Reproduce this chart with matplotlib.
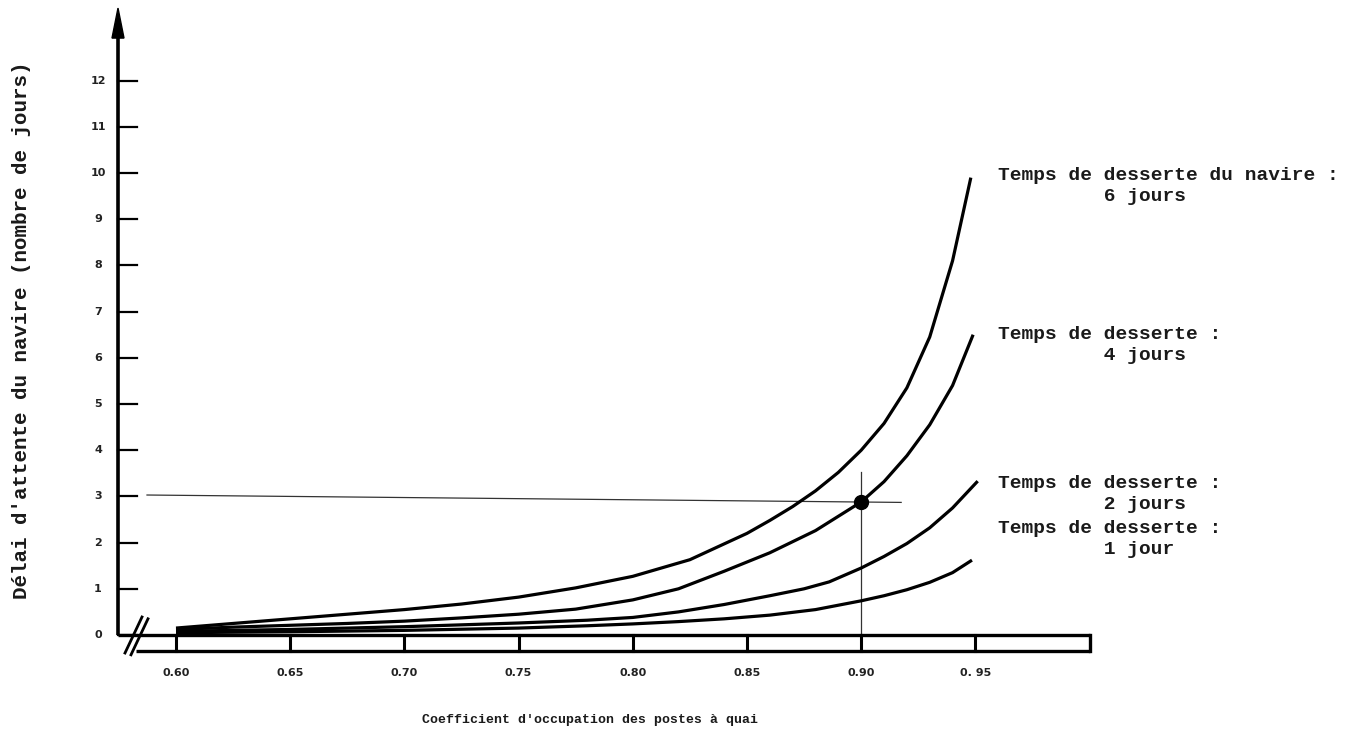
import matplotlib
matplotlib.use("Agg")
import matplotlib.pyplot as plt

# Occupancy ratio of berths (x) and waiting time in days (y) for each service time
occ_6j = [0.600, 0.625, 0.650, 0.675, 0.700, 0.725, 0.750, 0.775, 0.800, 0.825,
          0.850, 0.860, 0.870, 0.880, 0.890, 0.900, 0.910, 0.920, 0.930, 0.940, 0.948]
wait_6j = [0.15, 0.25, 0.35, 0.45, 0.55, 0.67, 0.82, 1.02, 1.27, 1.63,
           2.20, 2.48, 2.78, 3.12, 3.52, 4.00, 4.58, 5.35, 6.45, 8.10, 9.90]

occ_4j = [0.600, 0.625, 0.650, 0.675, 0.700, 0.725, 0.750, 0.775, 0.800, 0.820,
          0.840, 0.860, 0.880, 0.900, 0.910, 0.920, 0.930, 0.940, 0.949]
wait_4j = [0.12, 0.17, 0.21, 0.25, 0.30, 0.37, 0.45, 0.56, 0.76, 1.00,
           1.38, 1.78, 2.26, 2.88, 3.32, 3.88, 4.55, 5.40, 6.50]

occ_2j = [0.600, 0.650, 0.700, 0.750, 0.780, 0.800, 0.820, 0.840, 0.860, 0.875,
          0.886, 0.900, 0.910, 0.920, 0.930, 0.940, 0.951]
wait_2j = [0.08, 0.12, 0.18, 0.26, 0.32, 0.38, 0.50, 0.66, 0.85, 1.00,
           1.15, 1.45, 1.70, 1.98, 2.32, 2.75, 3.33]

occ_1j = [0.600, 0.650, 0.700, 0.750, 0.780, 0.800, 0.820, 0.840, 0.860, 0.880,
          0.900, 0.910, 0.920, 0.930, 0.940, 0.9485]
wait_1j = [0.05, 0.07, 0.10, 0.15, 0.20, 0.24, 0.29, 0.35, 0.43, 0.55,
           0.74, 0.85, 0.98, 1.14, 1.35, 1.62]

series = [(occ_6j, wait_6j), (occ_4j, wait_4j), (occ_2j, wait_2j), (occ_1j, wait_1j)]

curve_labels = ["Temps de desserte du navire :\n         6 jours",
                "Temps de desserte :\n         4 jours",
                "Temps de desserte :\n         2 jours",
                "Temps de desserte :\n         1 jour"]
curve_label_y = [9.72, 6.28, 3.05, 2.08]

x_ticks = [0.60, 0.65, 0.70, 0.75, 0.80, 0.85, 0.90, 0.95]
x_tick_labels = ["0.60", "0.65", "0.70", "0.75", "0.80", "0.85", "0.90", "0. 95"]
y_ticks = list(range(0, 13))

# reading example: occupancy 0.90 with a 4-day service time
ref_x = 0.90
ref_y = 2.88

# ---------------------------------------------------------------------------
W, H = 1360, 733
fig = plt.figure(figsize=(W / 100, H / 100), dpi=100)
ax = fig.add_axes([0, 0, 1, 1])
ax.set_axis_off()

# one data unit in pixels
PX0, PPX = 176, 2284.0   # x = 0.60 at pixel 176
PY0, PPY = 635, 46.2     # y = 0 at pixel 635
ax.set_xlim(0.6 - PX0 / PPX, 0.6 + (W - PX0) / PPX)
ax.set_ylim((PY0 - H) / PPY, PY0 / PPY)


def dx(px):
    return px / PPX


def dy(px):
    return px / PPY


mono = "Liberation Mono"
lw_main = 2.3

# vertical axis with arrow
x_axis = 0.6 - dx(58)
tip = 13.57
head_len, head_half = dy(30), dx(6)
ax.plot([x_axis, x_axis], [0, tip - head_len], color="black", lw=2.6,
        solid_capstyle="butt", zorder=3)
ax.fill([x_axis - head_half, x_axis + head_half, x_axis],
        [tip - head_len, tip - head_len, tip], color="black", zorder=3)

for t in y_ticks:
    ax.plot([x_axis, x_axis + dx(19)], [t, t], color="black", lw=1.6, zorder=3)
    ax.text(x_axis - dx(20), t, str(t), ha="center", va="center",
            fontsize=8, fontweight="bold", family="DejaVu Sans", color="#222222")

# horizontal scale drawn as a strip with dividers
x_end = 1.0
strip_bottom = -dy(16)
strip_left = 0.6 - dx(40)
ax.plot([x_axis, x_end], [0, 0], color="black", lw=2.4, zorder=3,
        solid_capstyle="butt")
ax.plot([strip_left, x_end], [strip_bottom, strip_bottom], color="black",
        lw=2.4, zorder=3, solid_capstyle="butt")
ax.plot([x_end, x_end], [strip_bottom, 0], color="black", lw=2.4, zorder=3)
for t, lab in zip(x_ticks, x_tick_labels):
    ax.plot([t, t], [strip_bottom, 0], color="black", lw=2.2, zorder=3)
    ax.text(t, -dy(38), lab, ha="center", va="center", fontsize=8,
            fontweight="bold", family="DejaVu Sans", color="#222222")

# axis break marks
for off in (0, 6):
    ax.plot([0.6 - dx(51 - off), 0.6 - dx(34 - off)],
            [-dy(18 + off * 0.3), dy(18 - off * 0.3)],
            color="black", lw=2.0, zorder=3)

# curves
for xs, ys in series:
    ax.plot(xs, ys, color="black", lw=lw_main, solid_capstyle="butt",
            solid_joinstyle="round", zorder=4)

# reading lines and point
ax.plot([ref_x, ref_x], [0, 3.53], color="#333333", lw=0.9, zorder=2)
ax.plot([0.6 - dx(29), 0.9175], [3.03, 2.87], color="#333333", lw=0.9, zorder=2)
ax.plot([ref_x], [ref_y], "o", color="black", markersize=10, zorder=5)

# curve labels
for lab, y in zip(curve_labels, curve_label_y):
    ax.text(0.6 + dx(822), y, lab, ha="left", va="center", fontsize=14,
            family=mono, fontweight="bold", color="#1a1a1a", linespacing=1.3)

# axis titles
ax.text(0.6 + dx(414), -dy(85), "Coefficient d'occupation des postes à quai",
        ha="center", va="center", fontsize=9.5, family=mono, fontweight="bold",
        color="#1a1a1a")
ax.text(0.6 - dx(154), dy(305), "Délai d'attente du navire (nombre de jours)",
        ha="center", va="center", rotation=90, fontsize=15, family=mono,
        fontweight="bold", color="#1a1a1a")

fig.savefig("out.png", dpi=100, facecolor="white")
